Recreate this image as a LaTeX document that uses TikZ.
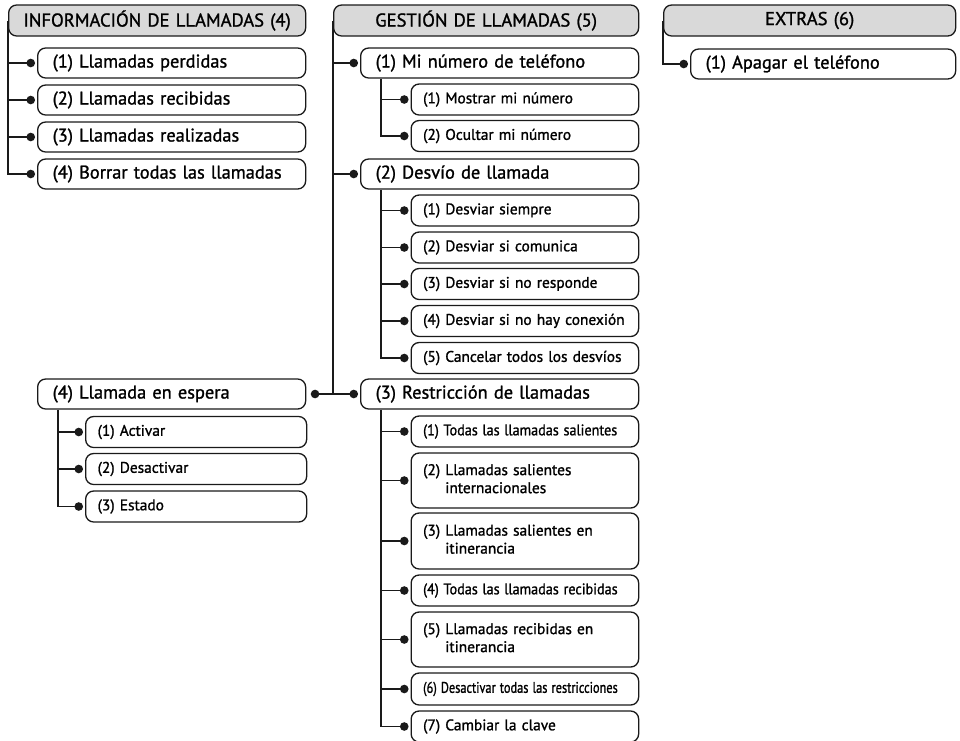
\documentclass[tikz,border=0pt]{standalone}
\usepackage{fontspec}
\usepackage{graphicx}
\setmainfont{PT Sans}[FakeBold=1.2]
\usetikzlibrary{arrows.meta}

\definecolor{headgray}{HTML}{D9D9D9}
\definecolor{linegray}{HTML}{1A1A1A}
\newcommand{\headtxt}{\fontsize{18.6}{21}\selectfont}
\newcommand{\bigtxt}{\fontsize{18.4}{20}\selectfont}
\newcommand{\smalltxt}{\fontsize{15.4}{18}\selectfont}
\newcommand{\twoline}[3]{\begin{tabular}{@{}l@{\ }l@{}}#1&#2\\&#3\end{tabular}}
\newcommand{\squeeze}[2]{\scalebox{#1}[1]{#2}}

\tikzset{
  menubox/.style={draw=linegray, line width=1.3pt, rounded corners=8pt,
    fill=white, anchor=west, align=left},
  menuhead/.style={menubox, fill=headgray, minimum height=31pt,
    inner xsep=0pt, text width=#1, align=center, font=\headtxt},
  bigitem/.style={menubox, minimum height=30pt, inner xsep=15pt,
    text width=#1, font=\bigtxt},
  subitem/.style={menubox, minimum height=31pt, inner xsep=12pt,
    text width=#1, font=\smalltxt},
  conn/.style={draw=linegray, line width=1.5pt,
    -{Circle[length=8.5pt]}, shorten >=2pt}
}

\begin{document}
\begin{tikzpicture}[x=1pt, y=-1pt]
  \useasboundingbox (0,0) rectangle (960,740);

  % Informacion de llamadas
  \node[menuhead=297pt] (h1) at (8,20.5) {INFORMACIÓN DE LLAMADAS (4)};
  \foreach \i/\y/\t in {1/63/(1) Llamadas perdidas, 2/100/(2) Llamadas recibidas,
      3/137/(3) Llamadas realizadas, 4/174/(4) Borrar todas las llamadas} {
    \node[bigitem=238pt] (a\i) at (37,\y) {\t};
  }
  \draw[conn] (h1.west) |- (a4.west);
  \foreach \i in {1,2,3} {
    \draw[conn] (h1.west |- a\i.west) -- (a\i.west);
  }

  % Gestion de llamadas
  \node[menuhead=305pt] (h2) at (333,20.5) {GESTIÓN DE LLAMADAS (5)};
  \node[bigitem=248pt] (m1) at (360,63) {(1) Mi número de teléfono};
  \node[bigitem=248pt] (m2) at (360,174) {(2) Desvío de llamada};
  \node[bigitem=248pt] (m3) at (360,394) {(3) Restricción de llamadas};
  \node[bigitem=238pt] (w) at (37,394) {(4) Llamada en espera};
  \draw[conn] (h2.west) |- (m3.west);
  \draw[conn] (h2.west |- m1.west) -- (m1.west);
  \draw[conn] (h2.west |- m2.west) -- (m2.west);
  \draw[conn, shorten >=4.5pt] (h2.west |- w.east) -- (w.east);

  % Mi numero
  \foreach \i/\y/\t in {1/99.5/(1) Mostrar mi número, 2/136/(2) Ocultar mi número} {
    \node[subitem=203.5pt] (n\i) at (410.5,\y) {\t};
  }
  \draw[conn] ([xshift=21pt]m1.south west) |- (n2.west);
  \draw[conn] ([xshift=21pt]m1.south west |- n1.west) -- (n1.west);

  % Desvio
  \foreach \i/\y/\t in {1/210.5/(1) Desviar siempre, 2/247.5/(2) Desviar si comunica,
      3/284/(3) Desviar si no responde, 4/321/(4) Desviar si no hay conexión,
      5/358/(5) Cancelar todos los desvíos} {
    \node[subitem=203.5pt] (d\i) at (410.5,\y) {\t};
  }
  \draw[conn] ([xshift=21pt]m2.south west) |- (d5.west);
  \foreach \i in {1,...,4} {
    \draw[conn] ([xshift=21pt]m2.south west |- d\i.west) -- (d\i.west);
  }

  % Restriccion
  \foreach \i/\y/\h/\t in {
      1/431.5/31/{\squeeze{0.92}{(1) Todas las llamadas salientes}},
      2/480.5/55/{\twoline{(2)}{Llamadas salientes}{internacionales}},
      3/541/56/{\twoline{(3)}{Llamadas salientes en}{itinerancia}},
      4/590.5/31/{\squeeze{0.92}{(4) Todas las llamadas recibidas}},
      5/639.5/55/{\twoline{(5)}{Llamadas recibidas en}{itinerancia}},
      6/689/32/{\squeeze{0.8}{(6) Desactivar todas las restricciones}},
      7/726.5/31/{(7) Cambiar la clave}} {
    \node[subitem=203.5pt, minimum height=\h pt] (r\i) at (410.5,\y) {\t};
  }
  \draw[conn] ([xshift=21pt]m3.south west) |- (r7.west);
  \foreach \i in {1,...,6} {
    \draw[conn] ([xshift=21pt]m3.south west |- r\i.west) -- (r\i.west);
  }

  % Llamada en espera
  \foreach \i/\y/\t in {1/432/(1) Activar, 2/469/(2) Desactivar, 3/506.5/(3) Estado} {
    \node[subitem=197pt] (e\i) at (85,\y) {\t};
  }
  \draw[conn] ([xshift=21pt]w.south west) |- (e3.west);
  \foreach \i in {1,2} {
    \draw[conn] ([xshift=21pt]w.south west |- e\i.west) -- (e\i.west);
  }

  % Extras
  \node[menuhead=292pt] (h3) at (663,20.5) {EXTRAS (6)};
  \node[bigitem=235pt] (x1) at (690,64) {(1) Apagar el teléfono};
  \draw[conn] (h3.west) |- (x1.west);
\end{tikzpicture}
\end{document}
